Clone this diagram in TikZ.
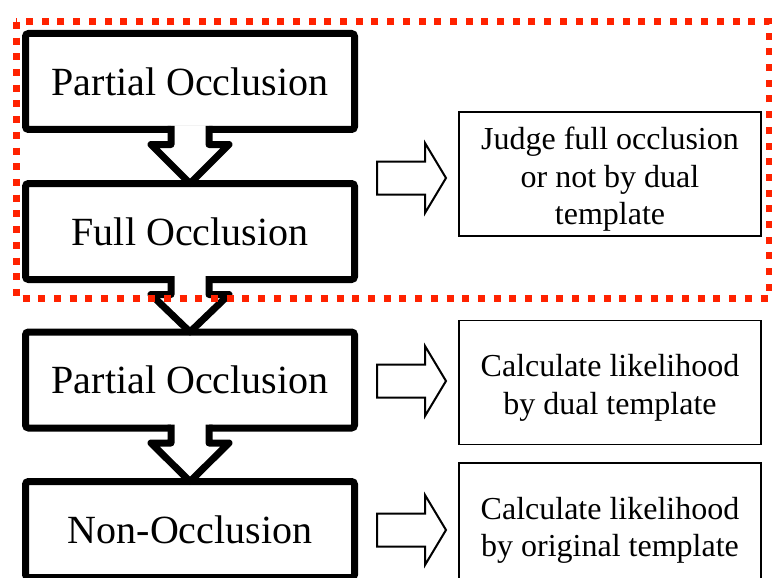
\documentclass[tikz,border=0pt]{standalone}
\usepackage{fontspec}
\setmainfont{Liberation Serif}
\usetikzlibrary{calc}

\definecolor{dotred}{RGB}{255,34,0}
\newcommand{\notestrut}{\rule{0pt}{33pt}}

\tikzstyle{occbox} = [draw=black, fill=white, line width=7pt, rectangle,
    rounded corners=3pt, minimum width=329pt, minimum height=96pt,
    outer sep=0pt, font=\fontsize{40}{46}\selectfont]
\tikzstyle{notebox} = [draw=black, line width=1.6pt, rectangle, inner sep=3pt,
    minimum width=302pt, minimum height=124pt, outer sep=0pt, align=center,
    font=\fontsize{32}{37.5}\selectfont]
\tikzstyle{downarrow} = [draw=black, line width=7pt, line join=round]
\tikzstyle{sidearrow} = [draw=black, fill=white, line width=2pt]
\tikzstyle{dualframe} = [draw=dotred, line width=7pt, dash pattern=on 7pt off 8.7pt]

\begin{document}
\begin{tikzpicture}[x=1pt, y=-1pt]
\useasboundingbox (0,0) rectangle (772,578);

% occlusion states
\node [occbox] (partA) at (190,81.5) {Partial Occlusion};
\node [occbox] (full) at (190,231.5) {Full Occlusion};
\node [occbox] (partB) at (190,380) {Partial Occlusion};
\node [occbox] (non) at (190,529.5) {Non-Occlusion};

% what is done in each state
\node [notebox] (judge) at (610,174) {\notestrut Judge full occlusion\\or not by dual\\template};
\node [notebox] (dual) at (610,382.5) {\notestrut Calculate likelihood\\by dual template};
\node [notebox] (orig) at (610,525) {\notestrut Calculate likelihood\\by original template};

% fat arrows from state to state
\foreach \a/\b in {partA/full, full/partB, partB/non}{
  \fill[white] ($(\a.south)+(-19,-4)$) -- ($(\a.south)+(-19,15)$)
    -- ($(\a.south)+(-39,15)$) -- (\b.north) -- ($(\a.south)+(39,15)$)
    -- ($(\a.south)+(19,15)$) -- ($(\a.south)+(19,-4)$) -- cycle;
  \draw[downarrow] ($(\a.south)+(-19,-3.5)$) -- ++(0,18.5) -- ++(-20,0)
    -- (\b.north) -- ($(\a.south)+(39,15)$) -- ++(-20,0) -- ++(0,-18.5);
}

% hollow arrows towards the notes
\coordinate (sideA) at (377,178);
\coordinate (sideB) at (377,381);
\coordinate (sideC) at (377,530);
\foreach \c in {sideA, sideB, sideC}
  \draw[sidearrow] ($(\c)+(0,-16.5)$) -- ++(48,0) -- ++(0,-18.5)
    -- ($(\c)+(69,0)$) -- ($(\c)+(48,35)$) -- ++(0,-18.5)
    -- ($(\c)+(0,16.5)$) -- cycle;

% dual template part
\draw[dualframe] (16,22) rectangle (769,298);
\end{tikzpicture}
\end{document}
